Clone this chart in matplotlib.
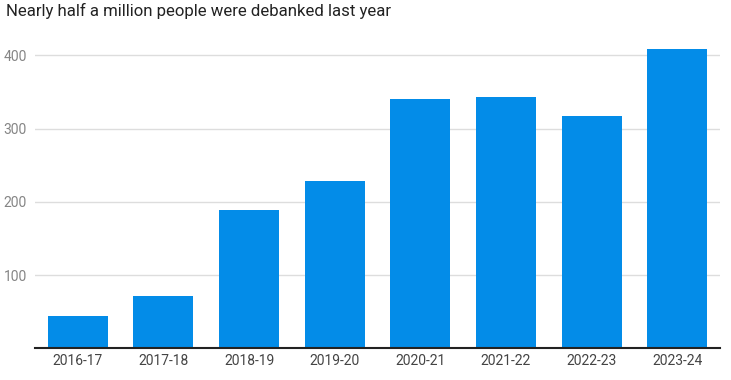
import matplotlib
matplotlib.use("Agg")
import matplotlib.pyplot as plt
from matplotlib import font_manager

categories = ["2016-17", "2017-18", "2018-19", "2019-20", "2020-21", "2021-22", "2022-23", "2023-24"]
values = [44, 71, 189, 229, 340, 343, 317, 409]
yticks = [100, 200, 300, 400]
title = "Nearly half a million people were debanked last year"

avail = {f.name for f in font_manager.fontManager.ttflist}
tick_font = [f for f in ["Liberation Sans Narrow", "Roboto", "DejaVu Sans"] if f in avail]
title_font = [f for f in ["Roboto", "DejaVu Sans"] if f in avail]

fig = plt.figure(figsize=(7.31, 3.80), dpi=100)
ax = fig.add_axes([35/731, 31.7/380, 685/731, (348.3-33.3)/380])

x = range(len(categories))
ax.bar(x, values, width=0.70, color="#038ce8", zorder=2)
ax.set_xlim(-0.5, len(categories) - 0.5)
ax.set_ylim(0, 430)
ax.set_yticks(yticks)
ax.set_yticklabels([str(t) for t in yticks], family=tick_font, fontsize=10, color="#858585")
ax.set_xticks(list(x))
ax.set_xticklabels(categories, family=tick_font, fontsize=10, color="#444444")
ax.tick_params(axis="y", length=0, pad=6)
ax.tick_params(axis="x", length=0, pad=4)
ax.grid(axis="y", color="#dddddd", linewidth=1, zorder=0)
for s in ["top", "right", "left"]:
    ax.spines[s].set_visible(False)
ax.spines["bottom"].set_color("#222222")
ax.spines["bottom"].set_linewidth(1.5)
ax.spines["bottom"].set_zorder(3)

fig.text(6/731, 1 - 11/380, title, family=title_font, fontsize=12.1, color="#222222",
         ha="left", va="center")

fig.savefig("out.png", dpi=100)
